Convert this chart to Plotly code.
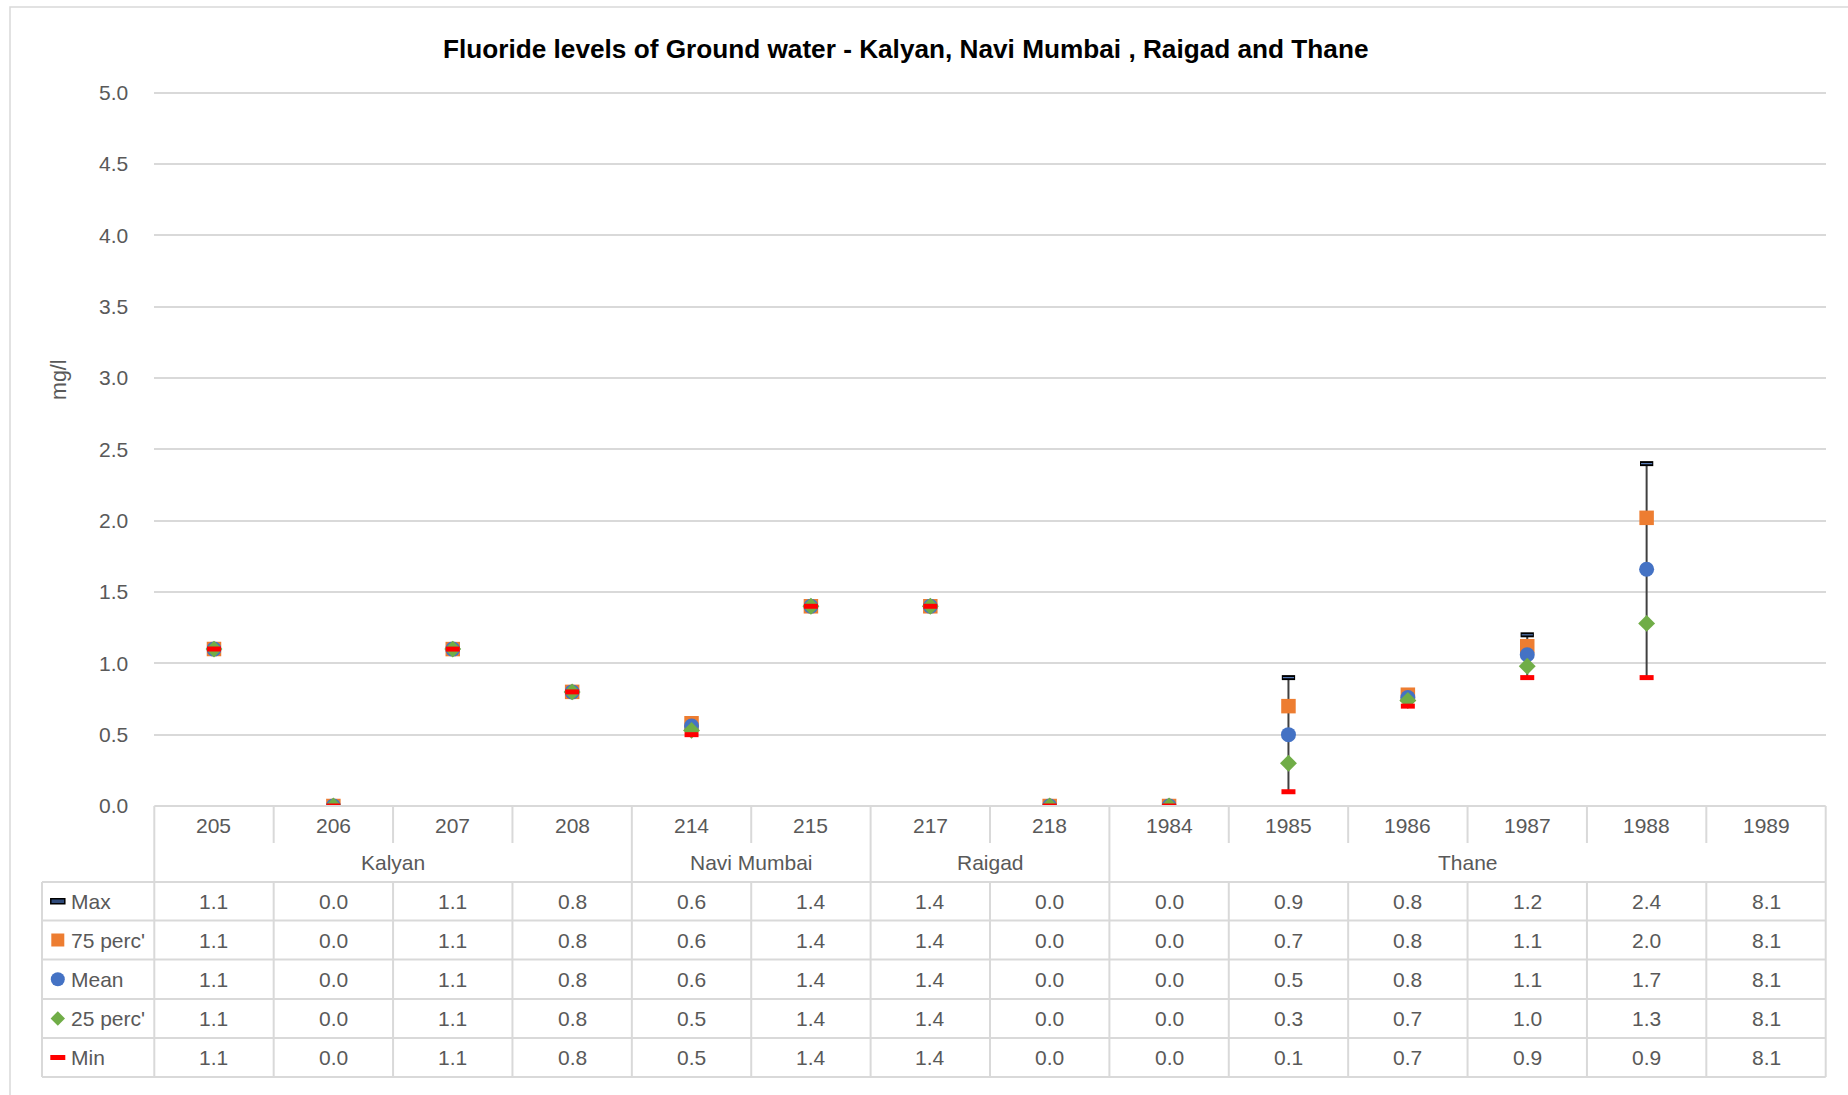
import plotly.graph_objects as go

# ---------------- data ----------------
categories = ["205", "206", "207", "208", "214", "215", "217", "218",
              "1984", "1985", "1986", "1987", "1988", "1989"]
group_names = ["Kalyan", "Navi Mumbai", "Raigad", "Thane"]
group_sizes = [4, 2, 2, 6]

max_vals = [1.10, 0.00, 1.10, 0.80, 0.57, 1.40, 1.40, 0.00, 0.00, 0.90, 0.79, 1.20, 2.40, 8.10]
p75_vals = [1.10, 0.00, 1.10, 0.80, 0.58, 1.40, 1.40, 0.00, 0.00, 0.70, 0.78, 1.12, 2.02, 8.10]
mean_vals = [1.10, 0.00, 1.10, 0.80, 0.56, 1.40, 1.40, 0.00, 0.00, 0.50, 0.76, 1.06, 1.66, 8.10]
p25_vals = [1.10, 0.00, 1.10, 0.80, 0.53, 1.40, 1.40, 0.00, 0.00, 0.30, 0.74, 0.98, 1.28, 8.10]
min_vals = [1.10, 0.00, 1.10, 0.80, 0.50, 1.40, 1.40, 0.00, 0.00, 0.10, 0.70, 0.90, 0.90, 8.10]

series_names = ["Max", "75 perc'", "Mean", "25 perc'", "Min"]

title_text = "Fluoride levels of Ground water - Kalyan, Navi Mumbai , Raigad and Thane"
y_title = "mg/l"
y_range = [0, 5.02]

# ---------------- layout helpers ----------------
W, H = 1848, 1095
FONT = "Liberation Sans, Arial, sans-serif"
GRID = "#D9D9D9"
TXT = "#595959"

def px(x):
    return x / W

def py(y):
    return 1 - y / H

L, R, B = 154.3, 1825.7, 806.0
UNIT = (806.0 - 92.7) / 5.0          # pixels per mg/l
T = B - UNIT * y_range[1]
n = len(categories)

fig = go.Figure()

# high-low lines (Max to Min)
fig.add_trace(go.Scatter(
    x=categories, y=max_vals, mode="markers",
    marker=dict(size=1, color="rgba(0,0,0,0)"),
    error_y=dict(type="data", symmetric=False,
                 array=[0] * n,
                 arrayminus=[mx - mn for mx, mn in zip(max_vals, min_vals)],
                 color="#404040", thickness=2, width=0),
    hoverinfo="skip", showlegend=False, cliponaxis=True))

# Max: black dash with thin blue core
fig.add_trace(go.Scatter(x=categories, y=max_vals, mode="markers", name="Max",
                         marker=dict(symbol="line-ew", size=9.5,
                                     line=dict(color="#000000", width=5)),
                         showlegend=False, cliponaxis=True))
fig.add_trace(go.Scatter(x=categories, y=max_vals, mode="markers", name="Max",
                         marker=dict(symbol="line-ew", size=8,
                                     line=dict(color="#5B7DB8", width=1.2)),
                         showlegend=False, cliponaxis=True, hoverinfo="skip"))
fig.add_trace(go.Scatter(x=categories, y=p75_vals, mode="markers", name="75 perc'",
                         marker=dict(symbol="square", size=14.5, color="#ED7D31",
                                     line=dict(width=0)),
                         showlegend=False, cliponaxis=True))
fig.add_trace(go.Scatter(x=categories, y=mean_vals, mode="markers", name="Mean",
                         marker=dict(symbol="circle", size=15, color="#4472C4",
                                     line=dict(width=0)),
                         showlegend=False, cliponaxis=True))
fig.add_trace(go.Scatter(x=categories, y=p25_vals, mode="markers", name="25 perc'",
                         marker=dict(symbol="diamond", size=13, color="#70AD47",
                                     line=dict(width=0)),
                         showlegend=False, cliponaxis=True))
fig.add_trace(go.Scatter(x=categories, y=min_vals, mode="markers", name="Min",
                         marker=dict(symbol="line-ew", size=10,
                                     line=dict(color="#FF0000", width=5)),
                         showlegend=False, cliponaxis=True))

shapes = []
annotations = []

def hline(y, x0, x1, width=2):
    shapes.append(dict(type="line", xref="paper", yref="paper",
                       x0=px(x0), x1=px(x1), y0=py(y), y1=py(y),
                       line=dict(color=GRID, width=width)))

def vline_paper(x, y0, y1, width=2):
    shapes.append(dict(type="line", xref="paper", yref="paper",
                       x0=px(x), x1=px(x), y0=py(y0), y1=py(y1),
                       line=dict(color=GRID, width=width)))

def vline_x(xv, y0, y1, width=2):
    shapes.append(dict(type="line", xref="x", yref="paper",
                       x0=xv, x1=xv, y0=py(y0), y1=py(y1),
                       line=dict(color=GRID, width=width)))

# outer chart border
shapes.append(dict(type="rect", xref="paper", yref="paper",
                   x0=px(10), x1=px(1900), y0=py(7), y1=py(1200),
                   line=dict(color=GRID, width=1.5), layer="below"))

# table geometry
CAT_Y = 825
GRP_Y = 863
row_lines = [882, 920.5, 959.5, 999, 1038, 1077]
row_centers = [(a + b) / 2 for a, b in zip(row_lines[:-1], row_lines[1:])]
HDR_L = 42

hline(B, L, R)
for y in row_lines:
    hline(y, HDR_L, R)
vline_paper(L, B, row_lines[-1])
vline_paper(R, B, row_lines[-1])
vline_paper(HDR_L, row_lines[0], row_lines[-1])

# group boundaries
bounds = []
acc = 0
for s in group_sizes:
    acc += s
    bounds.append(acc)
for i in range(1, n):
    if i in bounds:
        vline_x(i - 0.5, B, row_lines[-1])
    else:
        vline_x(i - 0.5, B, 843)
        vline_x(i - 0.5, row_lines[0], row_lines[-1])

# category labels
for i, c in enumerate(categories):
    annotations.append(dict(x=i, y=py(CAT_Y), xref="x", yref="paper", text=c,
                            showarrow=False, xanchor="center", yanchor="middle",
                            font=dict(family=FONT, size=21, color=TXT)))

# group labels
start = 0
for g, s in zip(group_names, group_sizes):
    mid = start + (s - 1) / 2
    annotations.append(dict(x=mid, y=py(GRP_Y), xref="x", yref="paper", text=g,
                            showarrow=False, xanchor="center", yanchor="middle",
                            font=dict(family=FONT, size=21, color=TXT)))
    start += s

# data rows
all_series = [max_vals, p75_vals, mean_vals, p25_vals, min_vals]
for name, vals, yc in zip(series_names, all_series, row_centers):
    annotations.append(dict(x=px(69), y=py(yc), xref="paper", yref="paper",
                            text=name, showarrow=False, xanchor="left",
                            yanchor="middle",
                            font=dict(family=FONT, size=21, color=TXT)))
    for i, v in enumerate(vals):
        annotations.append(dict(x=i, y=py(yc), xref="x", yref="paper",
                                text=f"{v:.1f}", showarrow=False,
                                xanchor="center", yanchor="middle",
                                font=dict(family=FONT, size=21, color=TXT)))

# legend keys in the table row headers
KX = 57.8
yc = row_centers
shapes.append(dict(type="rect", xref="paper", yref="paper",
                   x0=px(KX - 7), x1=px(KX + 7), y0=py(yc[0] - 2.5), y1=py(yc[0] + 2.5),
                   fillcolor="#2F4A7A", line=dict(color="#000000", width=1.5)))
shapes.append(dict(type="rect", xref="paper", yref="paper",
                   x0=px(KX - 6.5), x1=px(KX + 6.5), y0=py(yc[1] - 6.5), y1=py(yc[1] + 6.5),
                   fillcolor="#ED7D31", line=dict(width=0)))
shapes.append(dict(type="circle", xref="paper", yref="paper",
                   x0=px(KX - 7), x1=px(KX + 7), y0=py(yc[2] - 7), y1=py(yc[2] + 7),
                   fillcolor="#4472C4", line=dict(width=0)))
d = 7.2
shapes.append(dict(type="path", xref="paper", yref="paper",
                   path=(f"M {px(KX - d)} {py(yc[3])} L {px(KX)} {py(yc[3] - d)} "
                         f"L {px(KX + d)} {py(yc[3])} L {px(KX)} {py(yc[3] + d)} Z"),
                   fillcolor="#70AD47", line=dict(width=0)))
shapes.append(dict(type="rect", xref="paper", yref="paper",
                   x0=px(KX - 7.5), x1=px(KX + 7.5), y0=py(yc[4] - 2.5), y1=py(yc[4] + 2.5),
                   fillcolor="#FF0000", line=dict(width=0)))

# title and y-axis title
annotations.append(dict(x=px(905), y=py(48.5), xref="paper", yref="paper",
                        text=f"<b>{title_text}</b>", showarrow=False,
                        xanchor="center", yanchor="middle",
                        font=dict(family=FONT, size=26.2, color="#000000")))
annotations.append(dict(x=px(59), y=py(380), xref="paper", yref="paper",
                        text=y_title, showarrow=False, textangle=-90,
                        xanchor="center", yanchor="middle",
                        font=dict(family=FONT, size=21.5, color=TXT)))

fig.update_layout(
    width=W, height=H, autosize=False,
    margin=dict(l=0, r=0, t=0, b=0, pad=0, autoexpand=False),
    paper_bgcolor="white", plot_bgcolor="white",
    showlegend=False,
    xaxis=dict(domain=[px(L), px(R)], type="category", range=[-0.5, n - 0.5],
               showgrid=False, showticklabels=False, showline=False,
               zeroline=False, ticks="", automargin=False),
    yaxis=dict(domain=[py(B), py(T)], range=y_range, tickvals=[i * 0.5 for i in range(11)],
               tickformat=".1f", showgrid=True, gridcolor=GRID, gridwidth=1.5,
               zeroline=False, showline=False, ticks="", automargin=False,
               ticklabelstandoff=25,
               tickfont=dict(family=FONT, size=21, color=TXT)),
    shapes=shapes,
    annotations=annotations,
)

fig.write_html("out.html", config={"displayModeBar": False},
               post_script="document.body.style.margin='0';")
